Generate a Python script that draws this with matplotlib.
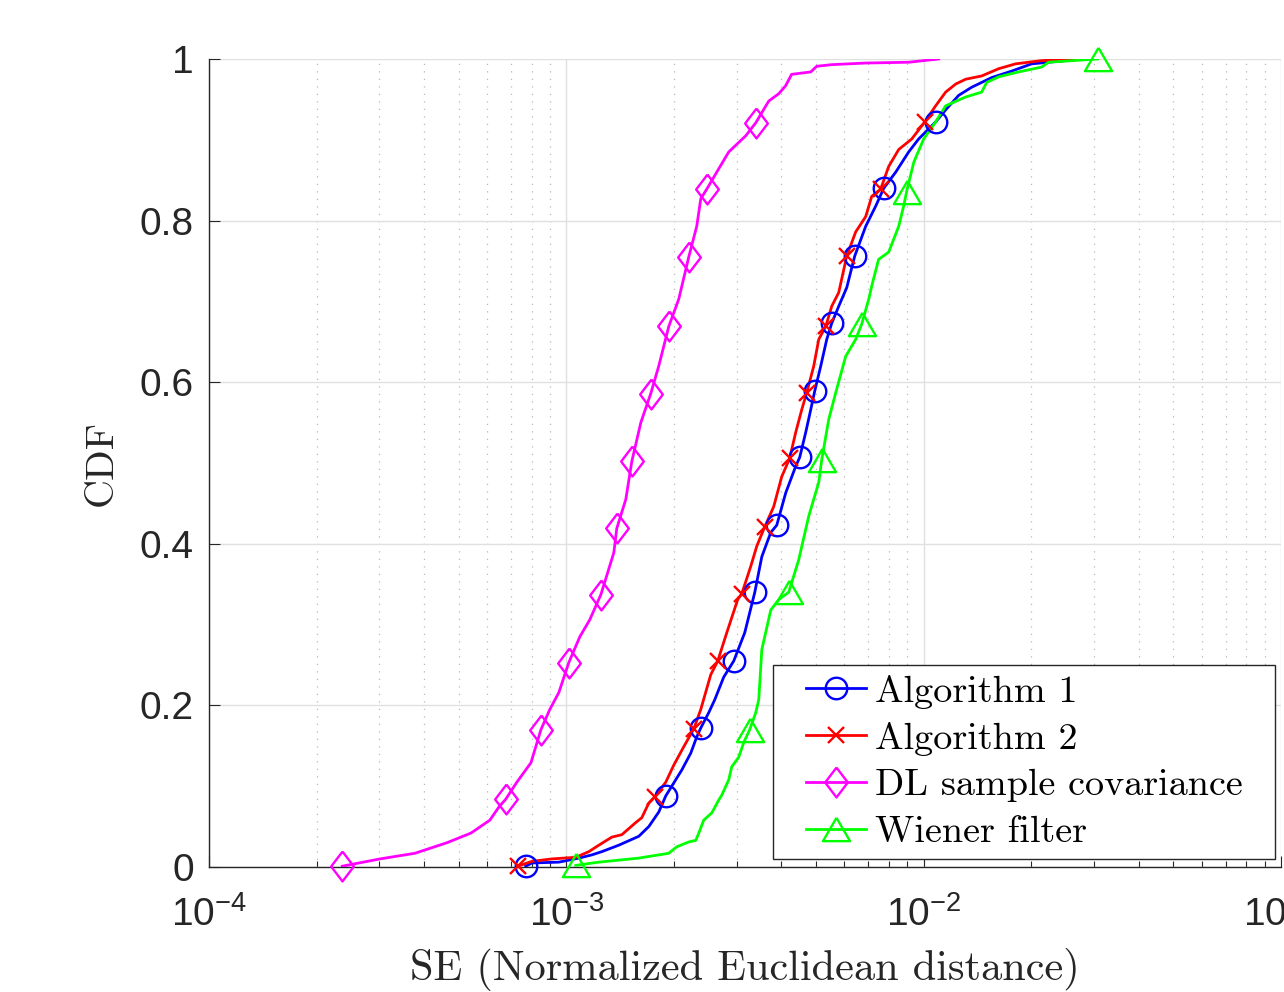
import matplotlib
matplotlib.use("Agg")
import matplotlib.pyplot as plt
from matplotlib.lines import Line2D
from matplotlib.legend_handler import HandlerLine2D
from matplotlib.ticker import LogLocator, NullFormatter, FixedLocator

# ---- datos (SE, CDF) ----
# Algorithm 1 (azul)
alg1_se = [7.70e-4, 8.01e-4, 9.53e-4, 1.084e-3, 1.179e-3, 1.257e-3, 1.402e-3, 1.595e-3, 1.701e-3, 1.814e-3,
           1.898e-3, 1.998e-3, 2.104e-3, 2.230e-3, 2.317e-3, 2.378e-3, 2.503e-3, 2.602e-3, 2.757e-3, 2.941e-3,
           3.157e-3, 3.368e-3, 3.524e-3, 3.733e-3, 3.880e-3, 4.111e-3, 4.385e-3, 4.499e-3, 4.677e-3, 4.830e-3,
           4.956e-3, 5.152e-3, 5.355e-3, 5.530e-3, 5.785e-3, 6.091e-3, 6.412e-3, 6.884e-3, 7.342e-3, 7.731e-3,
           8.352e-3, 9.080e-3, 9.680e-3, 1.080e-2, 1.152e-2, 1.253e-2, 1.362e-2, 1.550e-2, 1.763e-2, 2.005e-2,
           2.496e-2, 2.767e-2]
alg1_cdf = [.001, .005, .006, .011, .015, .019, .027, .038, .050, .068,
            .088, .104, .120, .141, .161, .172, .191, .207, .235, .255,
            .290, .340, .384, .414, .423, .463, .496, .507, .538, .566,
            .589, .620, .653, .673, .694, .717, .756, .793, .818, .840,
            .860, .885, .901, .922, .937, .955, .965, .977, .985, .994,
            .998, 1.0]
alg1_mk_se = [7.70e-4, 1.898e-3, 2.378e-3, 2.941e-3, 3.368e-3, 3.880e-3, 4.499e-3, 4.956e-3, 5.530e-3,
              6.412e-3, 7.731e-3, 1.080e-2]
alg1_mk_cdf = [.001, .088, .172, .255, .340, .423, .507, .589, .673, .756, .840, .922]

# Algorithm 2 (rojo)
alg2_se = [7.31e-4, 8.01e-4, 9.11e-4, 1.063e-3, 1.156e-3, 1.233e-3, 1.341e-3, 1.430e-3, 1.564e-3, 1.626e-3,
           1.701e-3, 1.768e-3, 1.898e-3, 1.998e-3, 2.132e-3, 2.274e-3, 2.378e-3, 2.536e-3, 2.653e-3, 2.812e-3,
           3.017e-3, 3.096e-3, 3.281e-3, 3.411e-3, 3.591e-3, 3.805e-3, 4.006e-3, 4.218e-3, 4.385e-3, 4.558e-3,
           4.707e-3, 4.925e-3, 5.086e-3, 5.320e-3, 5.530e-3, 5.785e-3, 6.091e-3, 6.453e-3, 6.884e-3, 7.155e-3,
           7.580e-3, 7.982e-3, 8.515e-3, 9.26e-3, 1.007e-2, 1.080e-2, 1.152e-2, 1.229e-2, 1.311e-2, 1.453e-2,
           1.622e-2, 1.808e-2, 2.138e-2, 2.767e-2]
alg2_cdf = [.001, .007, .010, .012, .019, .027, .037, .040, .055, .061,
            .079, .087, .105, .126, .149, .171, .195, .238, .255, .290,
            .331, .338, .372, .397, .421, .446, .483, .506, .538, .566,
            .587, .620, .653, .669, .694, .711, .756, .786, .805, .830,
            .839, .867, .888, .901, .922, .942, .959, .969, .975, .979,
            .988, .994, .998, 1.0]
alg2_mk_se = [7.31e-4, 1.768e-3, 2.274e-3, 2.653e-3, 3.096e-3, 3.591e-3, 4.218e-3, 4.707e-3, 5.320e-3,
              6.091e-3, 7.580e-3, 1.007e-2]
alg2_mk_cdf = [.001, .087, .171, .255, .338, .421, .506, .587, .669, .756, .839, .922]

# DL sample covariance (magenta)
dl_se = [2.36e-4, 3.01e-4, 3.77e-4, 4.63e-4, 5.41e-4, 6.11e-4, 6.47e-4, 6.77e-4, 7.27e-4, 7.96e-4,
         8.49e-4, 8.99e-4, 9.53e-4, 1.016e-3, 1.091e-3, 1.163e-3, 1.249e-3, 1.358e-3, 1.384e-3, 1.467e-3,
         1.525e-3, 1.616e-3, 1.723e-3, 1.814e-3, 1.935e-3, 2.064e-3, 2.201e-3, 2.317e-3, 2.378e-3, 2.472e-3,
         2.636e-3, 2.848e-3, 3.178e-3, 3.389e-3, 3.686e-3, 3.93e-3, 4.11e-3, 4.27e-3, 4.83e-3, 5.02e-3,
         5.53e-3, 6.88e-3, 9.08e-3, 1.102e-2]
dl_cdf = [.001, .010, .017, .030, .042, .058, .074, .084, .105, .129,
          .170, .195, .216, .253, .285, .306, .337, .389, .419, .455,
          .502, .550, .586, .620, .669, .703, .755, .793, .827, .839,
          .860, .885, .905, .921, .948, .957, .967, .981, .984, .991,
          .993, .995, .996, 1.0]
dl_mk_se = [2.36e-4, 6.77e-4, 8.49e-4, 1.016e-3, 1.249e-3, 1.384e-3, 1.525e-3, 1.723e-3, 1.935e-3,
            2.201e-3, 2.472e-3, 3.389e-3]
dl_mk_cdf = [.001, .084, .170, .253, .337, .419, .502, .586, .669, .755, .839, .921]

# Wiener filter (verde)
wf_se = [1.063e-3, 1.233e-3, 1.595e-3, 1.935e-3, 2.037e-3, 2.201e-3, 2.303e-3, 2.348e-3, 2.424e-3, 2.553e-3,
         2.671e-3, 2.723e-3, 2.848e-3, 2.903e-3, 3.037e-3, 3.136e-3, 3.260e-3, 3.389e-3, 3.455e-3, 3.524e-3,
         3.733e-3, 3.930e-3, 4.191e-3, 4.469e-3, 4.767e-3, 5.086e-3, 5.185e-3, 5.424e-3, 5.674e-3, 6.050e-3,
         6.453e-3, 6.710e-3, 7.022e-3, 7.155e-3, 7.48e-3, 7.982e-3, 8.515e-3, 8.79e-3, 8.96e-3, 9.38e-3,
         1.0e-2, 1.080e-2, 1.152e-2, 1.311e-2, 1.453e-2, 1.501e-2, 1.622e-2, 1.844e-2, 2.138e-2, 2.237e-2,
         3.067e-2]
wf_cdf = [.002, .006, .011, .017, .025, .031, .033, .042, .058, .067,
          .083, .089, .108, .124, .136, .154, .170, .191, .207, .269,
          .318, .331, .340, .380, .434, .476, .504, .554, .587, .632,
          .653, .672, .703, .719, .752, .761, .793, .818, .836, .872,
          .901, .922, .942, .953, .959, .971, .978, .984, .990, .996,
          1.0]
wf_mk_se = [1.063e-3, 3.260e-3, 4.191e-3, 5.185e-3, 6.710e-3, 8.96e-3, 3.067e-2]
wf_mk_cdf = [.002, .170, .340, .504, .672, .836, 1.0]

etiquetas = ["Algorithm 1", "Algorithm 2", "DL sample covariance", "Wiener filter"]

# ---- estilo ----
plt.rcParams['font.family'] = ['Liberation Sans', 'DejaVu Sans']
plt.rcParams['mathtext.fontset'] = 'custom'
plt.rcParams['mathtext.rm'] = 'Liberation Sans'
plt.rcParams['mathtext.it'] = 'Liberation Sans:italic'
plt.rcParams['axes.unicode_minus'] = False
gris = '#262626'

# marcadores tipo MATLAB
diamante = [(0, 1), (0.76, 0), (0, -1), (-0.76, 0), (0, 1)]
triangulo = [(0, 0.86), (-1, -0.86), (1, -0.86), (0, 0.86)]

series = [
    (alg1_se, alg1_cdf, alg1_mk_se, alg1_mk_cdf, '#0000ff', 'o', 15.5),
    (alg2_se, alg2_cdf, alg2_mk_se, alg2_mk_cdf, '#ff0000', 'x', 11),
    (dl_se, dl_cdf, dl_mk_se, dl_mk_cdf, '#ff00ff', diamante, 21.5),
    (wf_se, wf_cdf, wf_mk_se, wf_mk_cdf, '#00ff00', triangulo, 19.5),
]

LEG_FS = 27.5
LINEA_LEG = 43.0  # largo de la linea en la leyenda (pt)


class HandlerCorrido(HandlerLine2D):
    # la linea de la leyenda ocupa solo la parte derecha del hueco (como MATLAB)
    def get_xdata(self, legend, xdescent, ydescent, width, height, fontsize):
        x0 = -xdescent + width - LINEA_LEG
        x1 = -xdescent + width
        return [x0, x1], [0.5 * (x0 + x1)]


fig = plt.figure(figsize=(12.84, 9.92), dpi=100)
ax = fig.add_axes([209 / 1284, 1 - 867 / 992, 1072 / 1284, 808 / 992])

handles = []
for (se, cdf, mse, mcdf, col, mk, ms), lab in zip(series, etiquetas):
    ax.plot(se, cdf, color=col, lw=2.0, zorder=3)
    ax.plot(mse, mcdf, linestyle='none', marker=mk, markersize=ms, markerfacecolor='none',
            markeredgecolor=col, markeredgewidth=1.7, zorder=4, clip_on=False)
    handles.append(Line2D([], [], color=col, lw=2.0, marker=mk, markersize=ms, markerfacecolor='none',
                          markeredgecolor=col, markeredgewidth=1.7, label=lab))

ax.set_xscale('log')
ax.set_xlim(1e-4, 1e-1)
ax.set_ylim(0, 1)
ax.xaxis.set_major_locator(LogLocator(base=10, numticks=10))
ax.xaxis.set_minor_locator(LogLocator(base=10, subs=range(2, 10), numticks=20))
ax.xaxis.set_minor_formatter(NullFormatter())
ax.yaxis.set_major_locator(FixedLocator([0, 0.2, 0.4, 0.6, 0.8, 1.0]))
ax.set_yticklabels(['0', '0.2', '0.4', '0.6', '0.8', '1'])

ax.grid(which='major', color='#e0e0e0', lw=1.0, zorder=0)
ax.grid(which='minor', axis='x', color='#b8b8b8', lw=0.9, linestyle=(0, (1, 5)), zorder=0)
ax.set_axisbelow(True)

for s in ['top', 'right']:
    ax.spines[s].set_visible(False)
for s in ['left', 'bottom']:
    ax.spines[s].set_color(gris)
    ax.spines[s].set_linewidth(1.0)

ax.tick_params(which='major', direction='in', length=8, width=0.8, color=gris,
               labelcolor=gris, labelsize=28)
ax.tick_params(which='minor', direction='in', length=4.5, width=0.8, color=gris)
ax.tick_params(axis='x', which='major', pad=21)
ax.tick_params(axis='y', which='major', pad=11)

ax.set_xlabel('SE (Normalized Euclidean distance)', family='cmr10', fontsize=30.5, color=gris, va='center')
ax.xaxis.set_label_coords(0.5, -0.127)
ax.set_ylabel('CDF', family='cmr10', fontsize=29, color=gris, va='center')
ax.yaxis.set_label_coords(-0.1, 0.5)

# caja de la leyenda: x 773-1275 px, abajo en 859 px
leg = ax.legend(handles=handles, loc='lower left', mode='expand',
                bbox_to_anchor=(564 / 1072, 8 / 808, 502 / 1072, 0.3), borderaxespad=0,
                prop={'family': 'cmr10', 'size': LEG_FS}, frameon=True, fancybox=False, framealpha=1,
                edgecolor=gris, handlelength=2.17, handletextpad=0.24, labelspacing=0.34,
                borderpad=0.26, handler_map={Line2D: HandlerCorrido()})
leg.get_frame().set_linewidth(1.0)
leg.set_zorder(10)
for t in leg.get_texts():
    t.set_color('black')

plt.savefig('out.png', dpi=100)
plt.close()
